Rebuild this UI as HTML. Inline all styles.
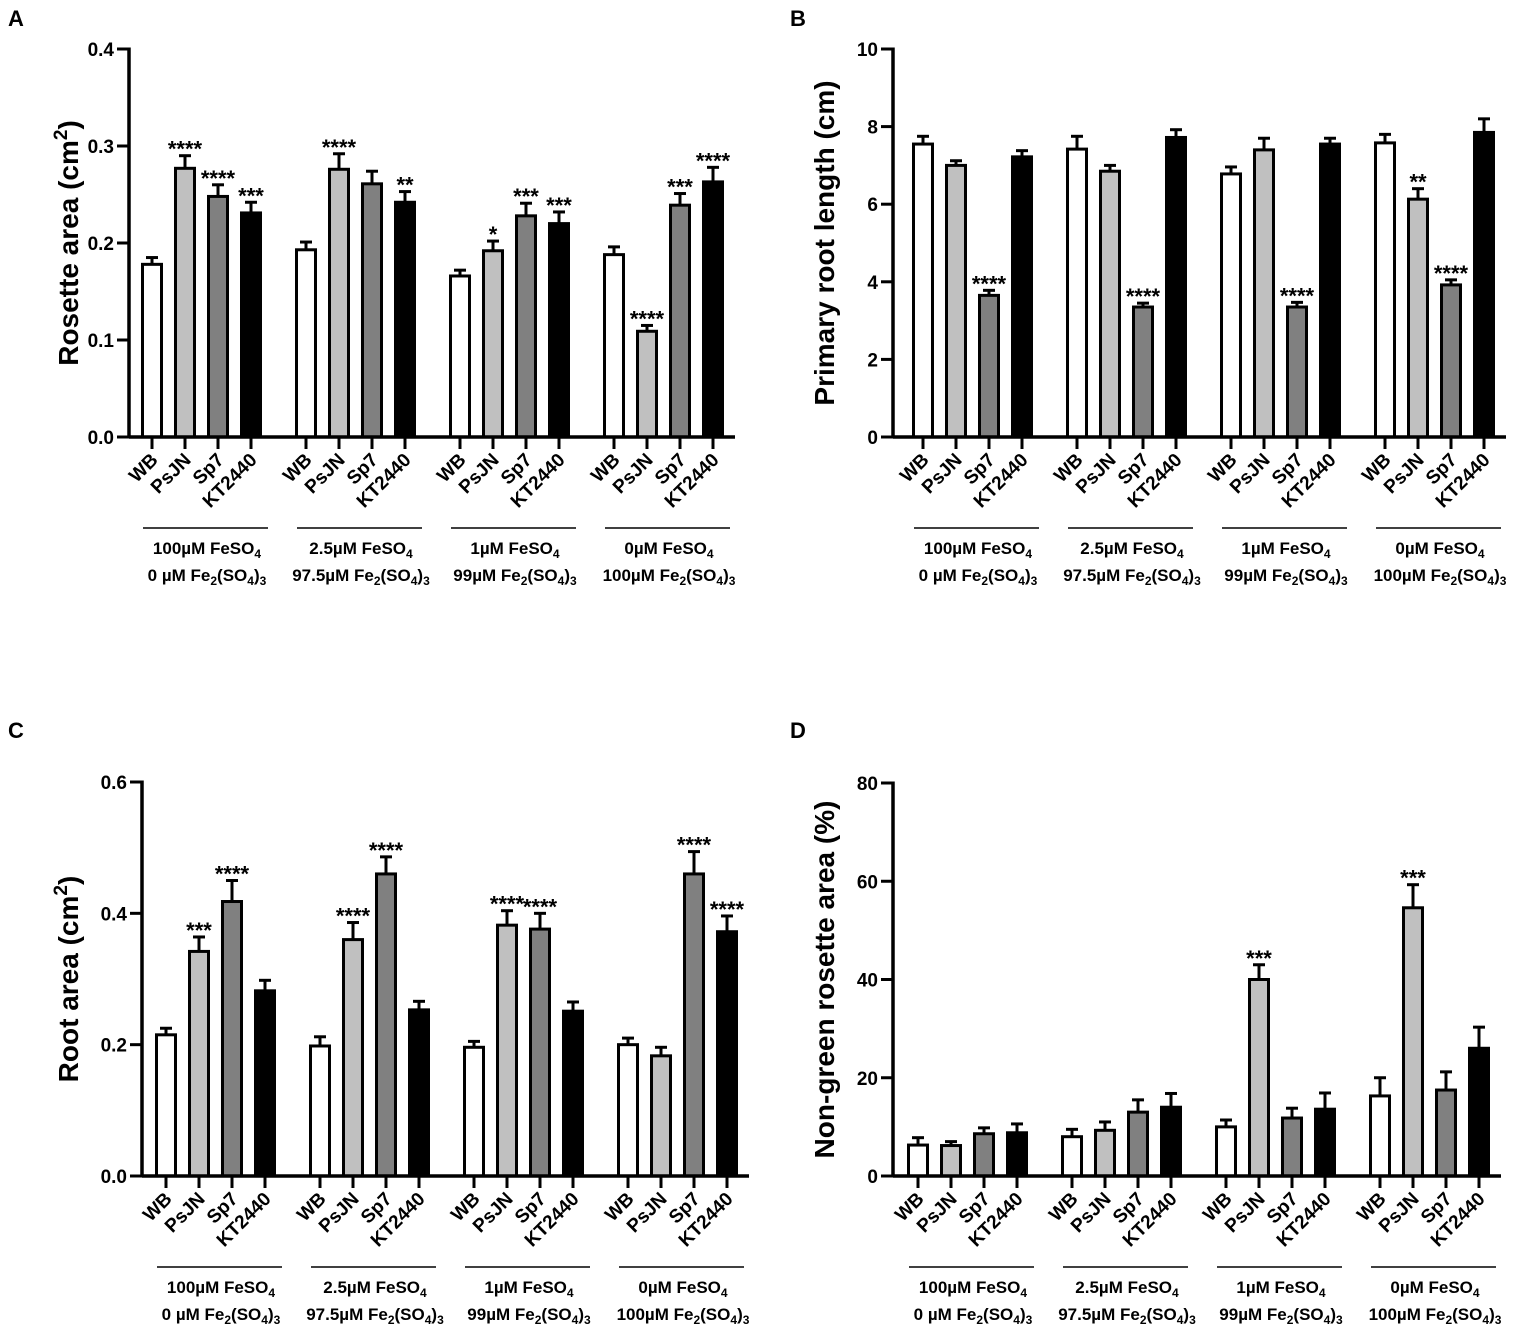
<!DOCTYPE html>
<html><head><meta charset="utf-8"><style>
html,body{margin:0;padding:0;background:#fff;}
svg{display:block;font-family:"Liberation Sans",Arial,sans-serif;font-weight:bold;}
</style></head><body>
<svg id="fig" width="1535" height="1330" viewBox="0 0 1535 1330" xmlns="http://www.w3.org/2000/svg">
<text x="8" y="26" font-size="22">A</text>
<text x="790" y="26" font-size="22">B</text>
<text x="8" y="738" font-size="22">C</text>
<text x="790" y="738" font-size="22">D</text>
</svg>
<script>
const strains = ["WB","PsJN","Sp7","KT2440"];
const fills = ["#ffffff","#c0c0c0","#808080","#000000"];
// Panel A: rosette area (cm2)
const aMeans = [[0.178,0.277,0.248,0.231],[0.193,0.276,0.261,0.242],[0.166,0.192,0.228,0.220],[0.188,0.109,0.239,0.263]];
const aErr   = [[0.007,0.013,0.012,0.011],[0.008,0.016,0.013,0.011],[0.006,0.010,0.013,0.012],[0.008,0.006,0.012,0.015]];
const aStars = [["","****","****","***"],["","****","","**"],["","*","***","***"],["","****","***","****"]];
const aTicks = [0,0.1,0.2,0.3,0.4];
const aTickLabels = ["0.0","0.1","0.2","0.3","0.4"];
// Panel B: primary root length (cm)
const bMeans = [[7.55,7.0,3.65,7.22],[7.42,6.85,3.35,7.72],[6.78,7.4,3.35,7.55],[7.58,6.13,3.92,7.85]];
const bErr   = [[0.2,0.12,0.13,0.16],[0.33,0.15,0.1,0.2],[0.18,0.3,0.12,0.15],[0.22,0.27,0.13,0.35]];
const bStars = [["","","****",""],["","","****",""],["","","****",""],["","**","****",""]];
const bTicks = [0,2,4,6,8,10];
const bTickLabels = ["0","2","4","6","8","10"];
// Panel C: root area (cm2)
const cMeans = [[0.215,0.342,0.418,0.282],[0.198,0.36,0.46,0.253],[0.196,0.382,0.376,0.251],[0.2,0.183,0.46,0.372]];
const cErr   = [[0.01,0.022,0.032,0.016],[0.014,0.026,0.026,0.013],[0.009,0.022,0.024,0.014],[0.01,0.013,0.034,0.024]];
const cStars = [["","***","****",""],["","****","****",""],["","****","****",""],["","","****","****"]];
const cTicks = [0,0.2,0.4,0.6];
const cTickLabels = ["0.0","0.2","0.4","0.6"];
// Panel D: non-green rosette area (%)
const dMeans = [[6.3,6.2,8.6,8.8],[8.0,9.3,13.0,14.0],[10.0,40.0,11.8,13.6],[16.3,54.6,17.5,26.0]];
const dErr   = [[1.5,0.8,1.2,1.8],[1.5,1.7,2.5,2.8],[1.4,3.0,2.0,3.3],[3.7,4.7,3.7,4.3]];
const dStars = [["","","",""],["","","",""],["","***","",""],["","***","",""]];
const dTicks = [0,20,40,60,80];
const dTickLabels = ["0","20","40","60","80"];
const groupLine1 = ["100\u00B5M FeSO","2.5\u00B5M FeSO","1\u00B5M FeSO","0\u00B5M FeSO"];
const groupLine2 = ["0 \u00B5M Fe","97.5\u00B5M Fe","99\u00B5M Fe","100\u00B5M Fe"];

const NS = "http://www.w3.org/2000/svg";
const svg = document.getElementById("fig");
function mk(tag, attrs, parent){
  const e = document.createElementNS(NS, tag);
  for (const k in attrs) e.setAttribute(k, attrs[k]);
  (parent||svg).appendChild(e);
  return e;
}
function panel(cfg){
  const g = mk("g", {});
  
  
  const y = v => cfg.y0 - (v / cfg.max) * (cfg.y0 - cfg.yTop);
  for (let gi = 0; gi < 4; gi++){
    for (let si = 0; si < 4; si++){
      const cx = cfg.x0 + gi * 154 + si * 33;
      const m = cfg.means[gi][si], e = cfg.err[gi][si];
      const top = y(m), et = y(m + e);
      const el = mk("line", {x1:cx, x2:cx, y1:top, y2:et, stroke:"#000", "stroke-width":3}, g);
      
      
      const cap = mk("line", {x1:cx-6, x2:cx+6, y1:et, y2:et, stroke:"#000", "stroke-width":3}, g);
      
      
      const r = mk("rect", {x:cx-9.5, y:top, width:19, height:cfg.y0-top, fill:fills[si], stroke:"#000", "stroke-width":3}, g);
      
      
      const tk = mk("line", {x1:cx, x2:cx, y1:cfg.y0, y2:cfg.y0+12, stroke:"#000", "stroke-width":3}, g);
      
      
      const lb = mk("text", {x:0, y:0, "font-size":19, "text-anchor":"end", transform:`translate(${cx+7},${cfg.y0+24}) rotate(-45)`}, g);
      lb.textContent = strains[si];
      
      
      if (cfg.stars[gi][si]){
        const st = mk("text", {x:cx, y:et+1, "font-size":22, "text-anchor":"middle"}, g);
        st.textContent = cfg.stars[gi][si];
        
        
      }
    }
    const gx0 = cfg.x0 + gi*154 - 9, gx1 = cfg.x0 + gi*154 + 99 + 17;
    const ul = mk("line", {x1:gx0, x2:gx1, y1:cfg.y0+91, y2:cfg.y0+91, stroke:"#000", "stroke-width":1.5}, g);
    
    
    const cxg = cfg.x0 + gi*154 + 55;
    const t1 = mk("text", {x:cxg, y:cfg.y0+117, "font-size":17, "text-anchor":"middle"}, g);
    t1.innerHTML = groupLine1[gi] + '<tspan font-size="12" dy="4">4</tspan>';
    
    
    const t2 = mk("text", {x:cxg, y:cfg.y0+144, "font-size":17, "text-anchor":"middle"}, g);
    t2.innerHTML = groupLine2[gi] + '<tspan font-size="12" dy="4">2</tspan><tspan dy="-4">(SO</tspan><tspan font-size="12" dy="4">4</tspan><tspan dy="-4">)</tspan><tspan font-size="12" dy="4">3</tspan>';
    
    
  }
  const ya = mk("line", {x1:cfg.ax, x2:cfg.ax, y1:cfg.yTop-1.5, y2:cfg.y0+1.5, stroke:"#000", "stroke-width":3.5}, g);
  
  
  const xa = mk("line", {x1:cfg.ax, x2:cfg.x0+3*154+99+22, y1:cfg.y0, y2:cfg.y0, stroke:"#000", "stroke-width":3.5}, g);
  
  
  cfg.ticks.forEach((v,i) => {
    const yy = y(v);
    const t = mk("line", {x1:cfg.ax-12, x2:cfg.ax, y1:yy, y2:yy, stroke:"#000", "stroke-width":3}, g);
    
    
    const l = mk("text", {x:cfg.ax-15, y:yy+7, "font-size":19, "text-anchor":"end"}, g);
    l.textContent = cfg.tickLabels[i];
    
    
  });
  const tt = mk("text", {x:0, y:0, "font-size":28, "text-anchor":"middle", transform:`translate(${cfg.titleX},${(cfg.yTop+cfg.y0)/2}) rotate(-90)`}, g);
  tt.innerHTML = cfg.title;
  
  
}
panel({name:"panel-a-rosette-area", ax:129, x0:152, y0:437, yTop:49, max:0.4, means:aMeans, err:aErr, stars:aStars, ticks:aTicks, tickLabels:aTickLabels, titleX:78, title:'Rosette area (cm<tspan font-size="19" dy="-11">2</tspan><tspan dy="11">)</tspan>'});
panel({name:"panel-b-root-length", ax:893, x0:923, y0:437, yTop:49, max:10, means:bMeans, err:bErr, stars:bStars, ticks:bTicks, tickLabels:bTickLabels, titleX:834, title:'Primary root length (cm)'});
panel({name:"panel-c-root-area", ax:142, x0:166, y0:1176, yTop:782, max:0.6, means:cMeans, err:cErr, stars:cStars, ticks:cTicks, tickLabels:cTickLabels, titleX:78, title:'Root area (cm<tspan font-size="19" dy="-11">2</tspan><tspan dy="11">)</tspan>'});
panel({name:"panel-d-non-green-area", ax:893, x0:918, y0:1176, yTop:783, max:80, means:dMeans, err:dErr, stars:dStars, ticks:dTicks, tickLabels:dTickLabels, titleX:834, title:'Non-green rosette area (%)'});
</script>
</body></html>
